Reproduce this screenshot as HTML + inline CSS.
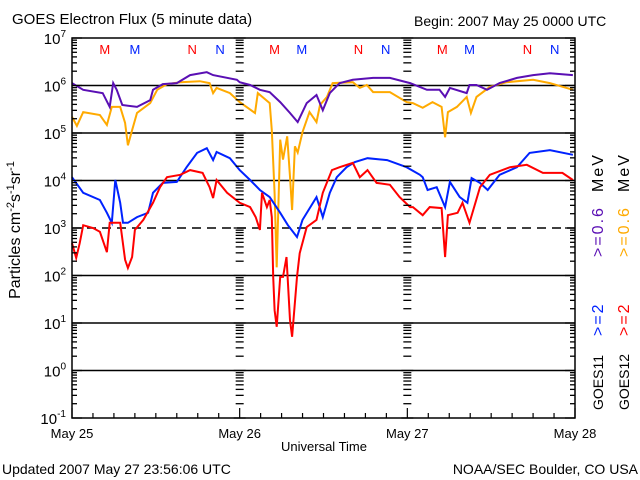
<!DOCTYPE html>
<html><head><meta charset="utf-8"><style>
body{margin:0;background:#fff;}
svg{display:block;font-family:"Liberation Sans",sans-serif;}
</style></head><body>
<svg id="chart" width="640" height="480" viewBox="0 0 640 480">
<rect width="640" height="480" fill="#fff"/>
<text x="12" y="24" font-size="15">GOES Electron Flux (5 minute data)</text>
<text x="414" y="26" font-size="14">Begin: 2007 May 25 0000 UTC</text>
<g id="grid"></g>
<g id="series"></g>
<g id="axes"></g>
<text transform="translate(20,230) rotate(-90)" text-anchor="middle" font-size="16">Particles cm<tspan dy="-6" font-size="11">-2</tspan><tspan dy="6">s</tspan><tspan dy="-6" font-size="11">-1</tspan><tspan dy="6">sr</tspan><tspan dy="-6" font-size="11">-1</tspan></text>
<text x="324" y="451" text-anchor="middle" font-size="13">Universal Time</text>
<text x="2" y="474" font-size="14">Updated 2007 May 27 23:56:06 UTC</text>
<text x="638" y="474" text-anchor="end" font-size="14">NOAA/SEC Boulder, CO USA</text>
<g font-size="16" letter-spacing="2">
<text transform="translate(603,336) rotate(-90)" fill="#0022ff">&gt;=2</text>
<text transform="translate(603,257) rotate(-90)" fill="#5a0fb4">&gt;=0.6</text>
<text transform="translate(603,192) rotate(-90)" fill="#000">MeV</text>
<text transform="translate(629,336) rotate(-90)" fill="#ff0000">&gt;=2</text>
<text transform="translate(629,257) rotate(-90)" fill="#ffaa00">&gt;=0.6</text>
<text transform="translate(629,192) rotate(-90)" fill="#000">MeV</text>
</g>
<text transform="translate(603,410) rotate(-90)" font-size="14">GOES11</text>
<text transform="translate(629,410) rotate(-90)" font-size="14">GOES12</text>
</svg>
<script>
const hoursPurple=[0,1.6,4.4,5.4,5.9,6.4,7.2,9.3,11.2,11.6,13.0,15.0,16.9,19.3,20.2,23.6,24.0,25.5,26.9,28.3,29.8,31.2,32.3,33.6,35.0,35.9,36.9,38.3,40.2,43.1,45.5,48.4,50.8,52.6,53.4,54.1,56.5,56.9,57.9,59.4,61.2,63.7,66.0,68.4,71.7];
const logPurple=[6.05,5.91,5.84,5.55,6.05,5.91,5.59,5.55,5.69,5.91,6.03,6.05,6.22,6.28,6.22,6.12,6.07,6.01,5.91,5.86,5.65,5.42,5.23,5.63,5.80,5.48,5.84,6.05,6.12,6.16,6.16,6.05,5.91,5.91,5.76,5.95,5.84,6.01,6.01,5.91,6.05,6.16,6.22,6.26,6.22];
const hoursOrange=[0,0.7,1.6,4.0,5.0,5.7,6.9,7.6,8.0,8.6,9.3,11.2,12.2,13.6,15.5,18.3,19.7,20.2,20.7,22.6,24.0,26.2,26.6,28.3,28.6,29.0,29.3,29.8,30.2,30.8,31.2,31.5,31.9,32.3,33.0,34.0,35.0,35.5,36.5,37.3,40.2,41.2,42.2,43.1,45.5,47.9,48.8,50.2,51.6,52.9,53.4,53.8,55.1,56.5,57.1,57.9,59.8,62.2,66.0,68.4,71.7];
const logOrange=[5.34,5.15,5.44,5.38,5.17,5.55,5.55,5.21,4.74,5.06,5.42,5.63,5.91,6.03,6.07,6.09,6.05,5.84,5.95,5.84,5.65,5.42,5.84,5.63,5.06,3.73,2.17,4.86,4.44,4.93,4.08,3.38,4.72,4.59,5.02,5.44,5.23,5.59,5.76,6.05,6.07,5.95,6.01,5.86,5.86,5.65,5.63,5.53,5.65,5.55,4.91,5.44,5.55,5.76,5.42,5.76,5.97,6.07,6.12,6.05,5.91];
const hoursBlue=[0,1.6,4.0,5.0,5.7,6.2,6.9,7.3,8.0,9.3,10.9,11.6,13.0,15.0,16.4,17.9,19.3,20.2,20.7,22.6,24.0,25.5,26.9,28.3,29.8,30.9,32.2,33.0,35.0,35.9,36.9,37.9,39.3,40.5,42.3,45.1,47.9,49.8,50.2,50.9,52.2,53.4,54.1,55.5,56.6,57.2,58.4,59.5,61.2,63.7,65.5,68.4,71.7];
const logBlue=[4.07,3.74,3.59,3.32,3.11,4.01,3.53,3.11,3.11,3.23,3.32,3.74,3.95,3.97,4.28,4.58,4.68,4.43,4.60,4.47,4.22,4.01,3.80,3.65,3.32,3.06,2.81,3.17,3.65,3.23,3.74,4.07,4.28,4.39,4.47,4.43,4.28,4.12,4.07,3.80,3.86,3.44,3.97,3.65,3.53,4.05,3.95,3.80,4.12,4.28,4.58,4.64,4.54];
const hoursRed=[0,0.6,1.1,1.6,3.0,4.0,5.0,5.4,6.9,7.6,8.0,8.6,9.0,10.2,11.6,12.6,13.6,15.5,16.9,18.7,19.7,20.2,20.7,22.2,24.0,25.5,26.3,26.9,27.2,27.9,28.3,28.6,28.8,29.0,29.3,29.8,30.2,30.7,31.2,31.5,32.2,32.6,33.6,35.0,35.9,37.2,38.3,40.2,41.2,42.3,43.6,45.5,46.9,48.4,48.8,50.2,51.2,52.9,53.4,53.8,55.2,55.9,56.9,58.4,59.8,62.7,65.1,67.4,70.2,71.7];
const logRed=[2.68,2.37,2.68,3.06,3.00,2.92,2.49,3.11,3.11,2.33,2.16,2.39,2.96,3.17,3.53,3.86,4.07,4.12,4.22,4.16,3.86,3.63,4.01,3.74,3.53,3.44,3.23,2.96,3.74,3.44,3.59,3.23,1.97,1.27,0.92,1.97,1.97,2.39,1.06,0.71,1.97,2.47,3.02,3.17,3.74,4.22,4.28,4.37,4.07,4.22,3.95,3.91,3.65,3.44,3.44,3.27,3.44,3.42,2.39,3.27,3.32,3.53,3.11,3.86,4.12,4.28,4.33,4.16,4.16,4.01];
const dayLabels=["May 25","May 26","May 27","May 28"];
const decadeExps=[-1,0,1,2,3,4,5,6,7];
const markerLetters=["M","M","N","N","M","M","N","N","M","M","N","N"];
const markerHours=[4.7,9.0,17.2,21.2,29.0,32.9,41.0,44.9,53.0,56.9,65.2,69.1];
const markerColors=["#ff0000","#0022ff","#ff0000","#0022ff","#ff0000","#0022ff","#ff0000","#0022ff","#ff0000","#0022ff","#ff0000","#0022ff"];

const X0=72,X1=575,Y7=38,DEC=47.5;
function xs(h){return X0+(X1-X0)*h/72;}
function ys(l){return Y7+(7-l)*DEC;}
const NS="http://www.w3.org/2000/svg";
function mk(tag,attrs,parent){const e=document.createElementNS(NS,tag);for(const k in attrs)e.setAttribute(k,attrs[k]);parent.appendChild(e);return e;}
const grid=document.getElementById('grid'),axes=document.getElementById('axes'),ser=document.getElementById('series');

decadeExps.forEach(function(p){
  const y=ys(p);
  if(p>-1&&p<7){
    const ln=mk('line',{x1:X0,x2:X1,y1:y,y2:y,stroke:'#000','stroke-width':1.5},grid);
    
    
    if(p===3)ln.setAttribute('stroke-dasharray','9,6');
  }
  const t=mk('text',{x:66,y:y+6,'text-anchor':'end','font-size':15},axes);
  
  
  t.textContent='10';
  const s=mk('tspan',{dy:-7,'font-size':10},t);
  s.textContent=String(p);
  if(p<7){for(let m=2;m<=9;m++){
    const yy=ys(p+Math.log10(m));
    [[X0,X0+5],[X1-5,X1],[xs(24)-4,xs(24)+4],[xs(48)-4,xs(48)+4]].forEach(function(r){
      const tk=mk('line',{x1:r[0],x2:r[1],y1:yy,y2:yy,stroke:'#000','stroke-width':1.3},axes);
      
      
    });
  }}
  [[X0,X0+10],[X1-10,X1],[xs(24)-6,xs(24)+6],[xs(48)-6,xs(48)+6]].forEach(function(r){
    const tk=mk('line',{x1:r[0],x2:r[1],y1:y,y2:y,stroke:'#000','stroke-width':1.3},axes);
    
    
  });
});
const frame=mk('rect',{x:X0,y:Y7,width:X1-X0,height:8*DEC,fill:'none',stroke:'#000','stroke-width':1.5},axes);


for(let h=0;h<=72;h+=3){
  const big=h%24===0, yb=ys(-1);
  const tk=mk('line',{x1:xs(h),x2:xs(h),y1:yb,y2:yb-(big?10:5),stroke:'#000','stroke-width':1.2},axes);
  
  
}
dayLabels.forEach(function(d,i){
  const t=mk('text',{x:xs(24*i),y:438,'text-anchor':'middle','font-size':13},axes);
  
  
  t.textContent=d;
});
markerLetters.forEach(function(L,i){
  const t=mk('text',{x:xs(markerHours[i]),y:54,'text-anchor':'middle','font-size':13,fill:markerColors[i]},axes);
  
  
  t.textContent=L;
});
function draw(hs,ls,color,name){
  let d='';
  hs.forEach(function(h,i){d+=(i?'L':'M')+xs(h).toFixed(1)+','+ys(ls[i]).toFixed(1);});
  const p=mk('path',{d:d,fill:'none',stroke:color,'stroke-width':2,'stroke-linejoin':'miter'},ser);
  
  
}
draw(hoursOrange,logOrange,'#ffaa00','series-goes12-0.6mev');
draw(hoursPurple,logPurple,'#5a0fb4','series-goes11-0.6mev');
draw(hoursBlue,logBlue,'#0022ff','series-goes11-2mev');
draw(hoursRed,logRed,'#ff0000','series-goes12-2mev');
</script>
</body></html>
